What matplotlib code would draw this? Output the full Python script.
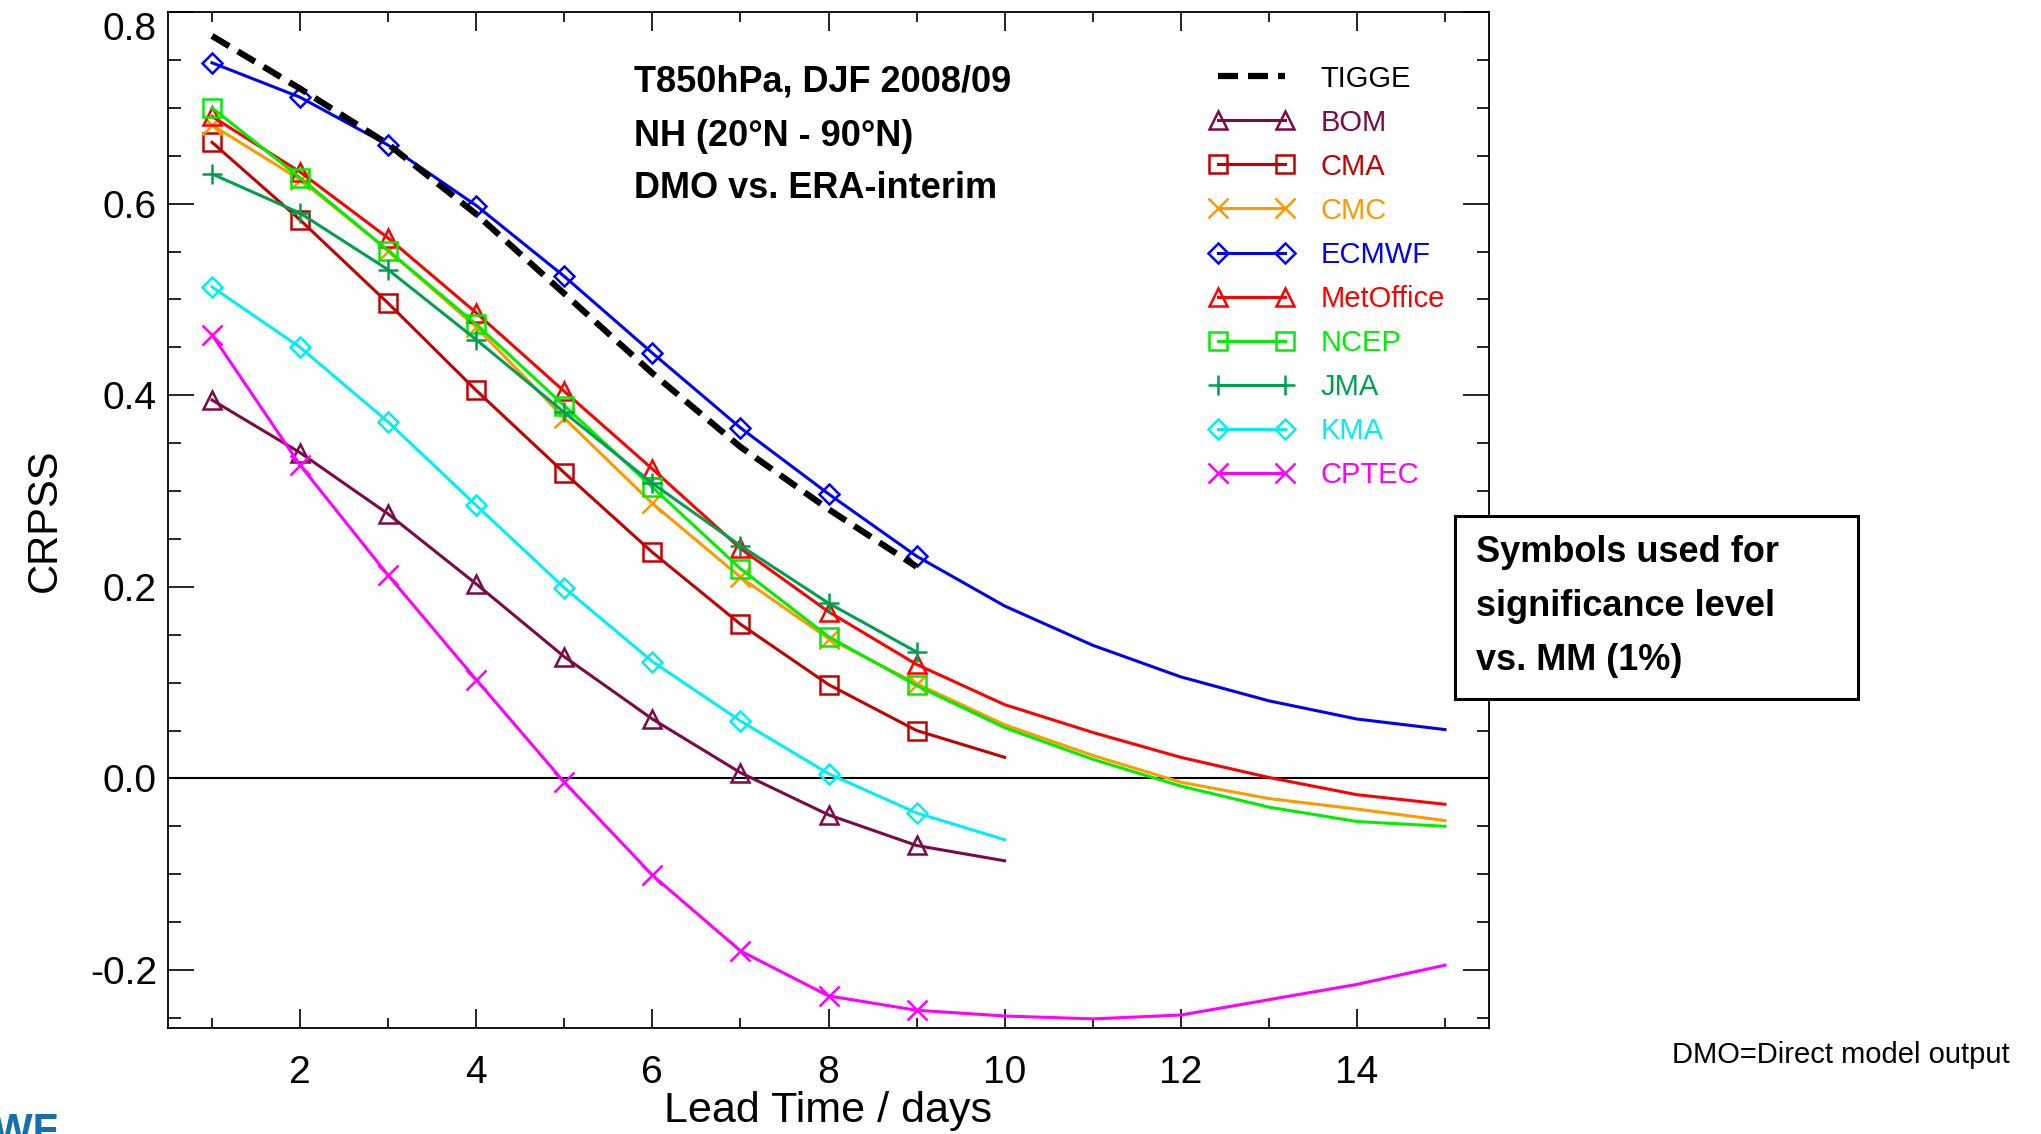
import matplotlib
matplotlib.use("Agg")
import matplotlib.pyplot as plt
from matplotlib.ticker import MultipleLocator, FormatStrFormatter
from matplotlib.patches import Rectangle

plt.rcParams['font.family'] = ['Liberation Sans', 'DejaVu Sans']

# lead time (days)
days = [1, 2, 3, 4, 5, 6, 7, 8, 9, 10, 11, 12, 13, 14, 15]

# CRPSS values
tigge = [0.775, 0.720, 0.662, 0.589, 0.506, 0.423, 0.346, 0.281, 0.221]
bom = [0.395, 0.340, 0.276, 0.203, 0.127, 0.062, 0.006, -0.038, -0.070, -0.086]
cma = [0.664, 0.583, 0.496, 0.405, 0.319, 0.236, 0.161, 0.098, 0.050, 0.022]
cmc = [0.682, 0.625, 0.551, 0.471, 0.376, 0.287, 0.210, 0.146, 0.099, 0.056,
       0.024, -0.004, -0.021, -0.032, -0.044]
ecmwf = [0.747, 0.711, 0.661, 0.598, 0.524, 0.444, 0.366, 0.297, 0.232, 0.180,
         0.139, 0.106, 0.081, 0.062, 0.051]
metoffice = [0.691, 0.633, 0.564, 0.486, 0.404, 0.323, 0.240, 0.174, 0.119, 0.077,
             0.048, 0.022, 0.001, -0.017, -0.027]
ncep = [0.700, 0.627, 0.551, 0.474, 0.389, 0.304, 0.219, 0.148, 0.097, 0.053,
        0.020, -0.008, -0.030, -0.045, -0.050]
jma = [0.631, 0.590, 0.531, 0.458, 0.382, 0.308, 0.243, 0.183, 0.132]
kma = [0.513, 0.450, 0.372, 0.285, 0.199, 0.122, 0.060, 0.005, -0.036, -0.064]
cptec = [0.463, 0.327, 0.212, 0.103, -0.004, -0.101, -0.180, -0.227, -0.242, -0.248,
         -0.251, -0.247, -0.231, -0.215, -0.195]

W, H = 2041, 1134
fig = plt.figure(figsize=(W / 100, H / 100), dpi=100)
ax = fig.add_axes([168 / W, 1 - 1027.5 / H, (1489 - 168) / W, (1027.5 - 12) / H])

ax.axhline(0, color='black', lw=1.5, zorder=1)

ax.plot(days[:len(tigge)], tigge, color='black', lw=4.5, ls=(0, (3.2, 1.6)), label='TIGGE', zorder=5)

series = [
    ('BOM', bom, '#7a0a48', '^'),
    ('CMA', cma, '#c40000', 's'),
    ('CMC', cmc, '#ff9900', 'x'),
    ('ECMWF', ecmwf, '#0000ff', 'D'),
    ('MetOffice', metoffice, '#ff0000', '^'),
    ('NCEP', ncep, '#00ee00', 's'),
    ('JMA', jma, '#00a050', '+'),
    ('KMA', kma, '#00f0f0', 'D'),
    ('CPTEC', cptec, '#ff00ff', 'x'),
]
for name, vals, col, mk in series:
    n = len(vals)
    ms = {'s': 13, '^': 13, 'D': 10, 'x': 14, '+': 15}[mk]
    ax.plot(days[:n], vals, color=col, lw=2.2, marker=mk, ms=ms, mfc='none',
            mec=col, mew=1.8, markevery=list(range(min(n, 9))), label=name, zorder=3)

ax.set_xlim(0.5, 15.5)
ax.set_ylim(-0.26, 0.8)
ax.xaxis.set_major_locator(MultipleLocator(2))
ax.xaxis.set_minor_locator(MultipleLocator(1))
ax.yaxis.set_major_locator(MultipleLocator(0.2))
ax.yaxis.set_minor_locator(MultipleLocator(0.05))
ax.yaxis.set_major_formatter(FormatStrFormatter('%.1f'))
ax.tick_params(which='both', direction='in', top=True, right=True, labelsize=28, width=1.2)
ax.tick_params(axis='x', which='major', length=14, pad=20)
ax.tick_params(axis='x', which='minor', length=7)
ax.tick_params(axis='y', which='major', length=19, pad=8)
ax.tick_params(axis='y', which='minor', length=9)
for s in ax.spines.values():
    s.set_linewidth(1.3)

ax.set_xlabel('Lead Time / days', fontsize=31, labelpad=0)
ax.set_ylabel('CRPSS', fontsize=30, labelpad=18)

leg = ax.legend(loc='upper left', bbox_to_anchor=(1195 / W, 1 - 50 / H), bbox_transform=fig.transFigure,
                frameon=False, numpoints=2, handlelength=2.9, handletextpad=0.9, labelspacing=0.55,
                fontsize=21, borderpad=0, labelcolor='linecolor')

bold = dict(fontsize=26, fontweight='bold', va='center', ha='left')
fig.text(634 / W, 1 - 82 / H, 'T850hPa, DJF 2008/09', **bold)
fig.text(634 / W, 1 - 136 / H, 'NH (20°N - 90°N)', **bold)
fig.text(634 / W, 1 - 189 / H, 'DMO vs. ERA-interim', **bold)

fig.patches.append(Rectangle((1455 / W, 1 - 699 / H), (1858 - 1455) / W, (699 - 516) / H,
                             transform=fig.transFigure, fill=True, facecolor='white',
                             edgecolor='black', lw=2.2, zorder=10))
for txt, yy in [('Symbols used for', 552), ('significance level', 606), ('vs. MM (1%)', 660)]:
    fig.text(1476 / W, 1 - yy / H, txt, zorder=11, **bold)

fig.text(2010 / W, 1 - 1055 / H, 'DMO=Direct model output', fontsize=21, ha='right', va='center')
fig.text(58 / W, 1 - 1112 / H, 'ECMWF', fontsize=30, fontweight='bold', color='#1570b0',
         ha='right', va='top')

# keep the top y label inside the figure, like the original
fig.canvas.draw()
for tick in ax.yaxis.get_major_ticks():
    if abs(tick.get_loc() - 0.8) < 1e-6:
        tick.label1.set_va('top')

fig.savefig('out.png', dpi=100)
